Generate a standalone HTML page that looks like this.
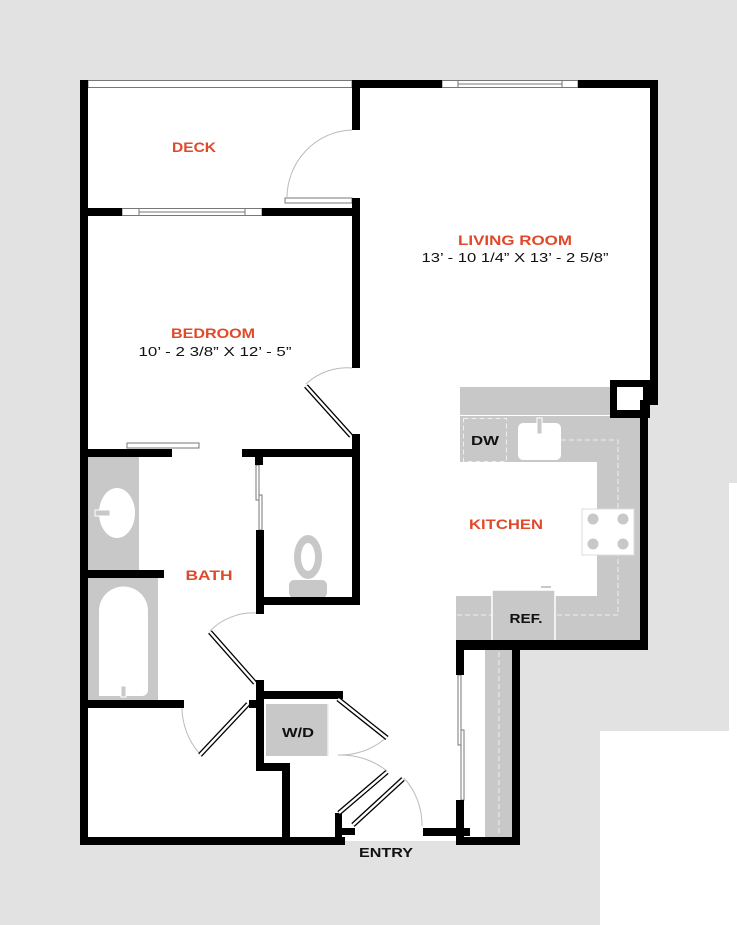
<!DOCTYPE html>
<html><head><meta charset="utf-8"><style>html,body{margin:0;padding:0;background:#fff}svg{display:block}</style></head><body>
<svg width="737" height="925" viewBox="0 0 737 925" xmlns="http://www.w3.org/2000/svg" font-family="'Liberation Sans', sans-serif">
<rect width="737" height="925" fill="#e2e2e2"/>
<rect x="729" y="483" width="8" height="248" fill="#fff"/>
<rect x="600" y="731" width="137" height="194" fill="#fff"/>
<!-- interior -->
<polygon points="84,84 654,84 654,400 644,400 644,644 516,644 516,841 84,841" fill="#fff"/>
<!-- kitchen counters -->
<g fill="#c8c8c8">
<rect x="460" y="387" width="150" height="28"/>
<rect x="460" y="416" width="180" height="46"/>
<rect x="597" y="416" width="43" height="224"/>
<rect x="456" y="596" width="184" height="44"/>
<rect x="485" y="650" width="27" height="187"/>
<rect x="88" y="457" width="51" height="113"/>
<rect x="88" y="578" width="70" height="122"/>
</g>
<g fill="none" stroke="#eee" stroke-width="1" stroke-dasharray="5,3">
<rect x="463.5" y="418.5" width="43" height="43"/>
<polyline points="561,440 618,440 618,615 555,615"/>
<line x1="457" y1="615" x2="493" y2="615"/>
<line x1="499" y1="652" x2="499" y2="836"/>
</g>
<rect x="518" y="423" width="43" height="37" rx="5" fill="#fff"/>
<rect x="537" y="418" width="5" height="16" fill="#c8c8c8" stroke="#fff" stroke-width="1"/>
<rect x="582" y="509" width="52" height="46" fill="#fff" stroke="#ddd"/>
<g fill="#c8c8c8"><circle cx="593" cy="519" r="5.5"/><circle cx="623" cy="519" r="5.5"/><circle cx="593" cy="544" r="5.5"/><circle cx="623" cy="544" r="5.5"/></g>
<rect x="492" y="590" width="63" height="52" fill="#c8c8c8" stroke="#fff" stroke-width="1.5"/>
<rect x="541" y="586" width="10" height="2" fill="#c8c8c8"/>
<!-- bath fixtures -->
<ellipse cx="117" cy="513" rx="18" ry="25" fill="#fff"/>
<rect x="95" y="510" width="15" height="6" fill="#c8c8c8" stroke="#fff"/>
<path d="M99,696 V611 A24.5,24.5 0 0 1 148,611 V690 A6,6 0 0 1 142,696 Z" fill="#fff"/>
<rect x="121" y="686" width="5" height="11" fill="#c8c8c8" stroke="#fff"/>
<ellipse cx="308" cy="557" rx="14" ry="22" fill="#c8c8c8"/>
<ellipse cx="308" cy="557" rx="7" ry="14" fill="#fff"/>
<rect x="289" y="580" width="38" height="18" rx="5" fill="#c8c8c8"/>
<rect x="266" y="704" width="62" height="52" fill="#c8c8c8"/>
<line x1="328" y1="704" x2="328" y2="756" stroke="#eee" stroke-width="1.5"/>
<!-- windows -->
<g fill="#fff" stroke="#777" stroke-width="1">
<rect x="88" y="80.5" width="264" height="7"/>
<rect x="442" y="80.5" width="136" height="7"/><line x1="458" y1="84" x2="562" y2="84"/><line x1="458" y1="81" x2="458" y2="87"/><line x1="562" y1="81" x2="562" y2="87"/>
<rect x="122" y="208.5" width="140" height="7"/><line x1="139" y1="212" x2="245" y2="212"/><line x1="139" y1="209" x2="139" y2="215"/><line x1="245" y1="209" x2="245" y2="215"/>
<rect x="285" y="198" width="67" height="5"/>
<rect x="127" y="443" width="72" height="5"/>
<rect x="256" y="465" width="3" height="35"/><rect x="259" y="495" width="3" height="35"/>
<rect x="458" y="675" width="3" height="70"/><rect x="461" y="730" width="3" height="70"/>
</g>
<!-- walls -->
<g fill="#000">
<rect x="80" y="80" width="8" height="765"/>
<rect x="352" y="80" width="8" height="50"/>
<rect x="360" y="80" width="82" height="8"/><rect x="578" y="80" width="80" height="8"/>
<rect x="650" y="80" width="8" height="325"/>
<path d="M610,380 H650 V418 H610 Z M617,387 V410 H643 V387 Z" fill-rule="evenodd"/>
<rect x="640" y="400" width="8" height="250"/>
<rect x="80" y="208" width="42" height="8"/><rect x="262" y="208" width="98" height="8"/>
<rect x="352" y="198" width="8" height="170"/>
<rect x="352" y="434" width="8" height="171"/>
<rect x="80" y="449" width="92" height="8"/><rect x="242" y="449" width="118" height="8"/>
<rect x="255" y="457" width="8" height="8"/>
<rect x="256" y="530" width="8" height="84"/>
<rect x="264" y="597" width="96" height="8"/>
<rect x="80" y="570" width="84" height="8"/>
<rect x="80" y="700" width="104" height="8"/>
<rect x="256" y="680" width="8" height="90"/>
<rect x="256" y="691" width="87" height="8"/>
<rect x="249" y="700" width="8" height="8"/>
<rect x="256" y="763" width="34" height="8"/>
<rect x="282" y="763" width="8" height="82"/>
<rect x="80" y="837" width="265" height="8"/>
<rect x="335" y="813" width="7" height="30"/><rect x="335" y="828" width="20" height="7"/>
<rect x="423" y="828" width="47" height="8"/>
<rect x="456" y="640" width="192" height="10"/>
<rect x="456" y="640" width="8" height="35"/>
<rect x="456" y="800" width="8" height="45"/>
<rect x="456" y="837" width="64" height="8"/>
<rect x="512" y="648" width="8" height="197"/>
</g>
<!-- doors -->
<g fill="none" stroke="#bbb" stroke-width="1">
<path d="M352,130 A67,68 0 0 0 287,198"/>
<path d="M352,368 A60,60 0 0 0 306,384"/>
<path d="M256,613 A60,60 0 0 0 210,631"/>
<path d="M182,708 A70,70 0 0 0 200,754"/>
<path d="M387,737 A70,70 0 0 1 338,755"/>
<path d="M338,755 A75,75 0 0 1 387,771"/>
<path d="M404,778 A70,70 0 0 1 422,826"/>
</g>
<g stroke="#000" stroke-width="5" stroke-linecap="butt"><line x1="306" y1="386" x2="351" y2="436"/><line x1="210" y1="632" x2="255" y2="683"/><line x1="200" y1="755" x2="248" y2="704"/><line x1="338" y1="699" x2="387" y2="738"/><line x1="339" y1="813" x2="387" y2="772"/><line x1="353" y1="825" x2="403" y2="779"/></g>
<g stroke="#fff" stroke-width="2.4"><line x1="306" y1="386" x2="351" y2="436"/><line x1="210" y1="632" x2="255" y2="683"/><line x1="200" y1="755" x2="248" y2="704"/><line x1="338" y1="699" x2="387" y2="738"/><line x1="339" y1="813" x2="387" y2="772"/><line x1="353" y1="825" x2="403" y2="779"/></g>
<!-- labels -->
<g fill="#e0492a" font-size="14" font-weight="bold" text-anchor="middle">
<text x="194" y="152" textLength="44" lengthAdjust="spacingAndGlyphs">DECK</text>
<text x="515" y="245" textLength="114" lengthAdjust="spacingAndGlyphs">LIVING ROOM</text>
<text x="213" y="338" textLength="84" lengthAdjust="spacingAndGlyphs">BEDROOM</text>
<text x="209" y="580" textLength="47" lengthAdjust="spacingAndGlyphs">BATH</text>
<text x="506" y="529" textLength="74" lengthAdjust="spacingAndGlyphs">KITCHEN</text>
</g>
<g fill="#111" font-size="13" text-anchor="middle">
<text x="515" y="262" textLength="187" lengthAdjust="spacingAndGlyphs">13’ - 10 1/4” X 13’ - 2 5/8”</text>
<text x="215" y="356" textLength="153" lengthAdjust="spacingAndGlyphs">10’ - 2 3/8” X 12’ - 5”</text>
</g>
<g fill="#111" font-size="13" font-weight="bold" text-anchor="middle">
<text x="485" y="445" textLength="28" lengthAdjust="spacingAndGlyphs">DW</text>
<text x="526" y="623" textLength="33" lengthAdjust="spacingAndGlyphs">REF.</text>
<text x="298" y="737" textLength="32" lengthAdjust="spacingAndGlyphs">W/D</text>
<text x="386" y="857" textLength="54" lengthAdjust="spacingAndGlyphs">ENTRY</text>
</g>
</svg>
</body></html>
